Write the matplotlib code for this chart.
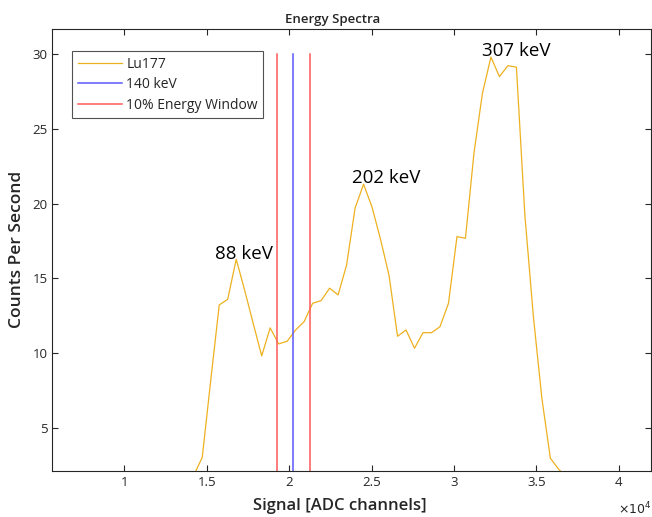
import matplotlib
matplotlib.use('Agg')
import matplotlib.pyplot as plt

plt.rcParams['font.family'] = ['Open Sans', 'DejaVu Sans']

# Lu177 spectrum (ADC channel, counts per second)
channels = [14215, 14730, 15245, 15760, 16275, 16790, 17305, 17820, 18335, 18850,
            19365, 19880, 20395, 20910, 21425, 21940, 22455, 22970, 23485, 24000,
            24515, 25030, 25545, 26060, 26575, 27090, 27605, 28120, 28635, 29150,
            29665, 30180, 30695, 31210, 31725, 32240, 32755, 33270, 33785, 34300,
            34815, 35330, 35845, 36360, 36875]
counts = [1.85, 3.06, 8.2, 13.23, 13.61, 16.28, 14.2, 12.0, 9.83, 11.70,
          10.63, 10.81, 11.56, 12.12, 13.34, 13.52, 14.35, 13.9, 15.9, 19.69,
          21.29, 19.75, 17.6, 15.2, 11.14, 11.56, 10.34, 11.38, 11.38, 11.78,
          13.34, 17.79, 17.68, 23.36, 27.36, 29.77, 28.47, 29.2, 29.1, 19.2,
          12.45, 7.0, 3.0, 2.25, 1.7]

photopeak = 20250          # 140 keV
window = [19240, 21260]    # 10% energy window
line_top = 30

peak_labels = ['88 keV', '202 keV', '307 keV']
peak_x = [15500, 23790, 31670]
peak_y = [16.28, 21.36, 29.85]

xticks = [10000, 15000, 20000, 25000, 30000, 35000, 40000]
xticklabels = ['1', '1.5', '2', '2.5', '3', '3.5', '4']
yticks = [5, 10, 15, 20, 25, 30]

gray = '#262626'

fig = plt.figure(figsize=(6.52, 5.17), dpi=100)
ax = fig.add_axes([0.0802, 0.0896, 0.9188, 0.8544])

ax.plot(channels, counts, color='#EDB120', lw=0.9, label='Lu177')
ax.plot([photopeak, photopeak], [0, line_top], color=(0.35, 0.35, 1.0), lw=1.1, label='140 keV')
ax.plot([window[0], window[0]], [0, line_top], color=(1.0, 0.35, 0.35), lw=1.1,
        label='10% Energy Window')
ax.plot([window[1], window[1]], [0, line_top], color=(1.0, 0.35, 0.35), lw=1.1)

for lab, px, py in zip(peak_labels, peak_x, peak_y):
    ax.text(px, py, lab, fontsize=13.5, color='black', ha='left', va='baseline')

ax.set_xlim(5634, 41970)
ax.set_ylim(2.17, 31.65)
ax.set_xticks(xticks)
ax.set_xticklabels(xticklabels)
ax.set_yticks(yticks)
ax.tick_params(direction='in', length=4, width=0.8, colors=gray, labelsize=9.5,
               top=True, right=True, labelcolor=gray)
for sp in ax.spines.values():
    sp.set_color(gray)
    sp.set_linewidth(0.8)

ax.set_title('Energy Spectra', fontsize=9.5, fontweight='semibold', color=gray, x=0.468, pad=4)
ax.set_xlabel('Signal [ADC channels]', fontsize=12, fontweight='semibold', color=gray)
ax.set_ylabel('Counts Per Second', fontsize=12.5, fontweight='semibold', color=gray)
ax.xaxis.set_label_coords(0.48, -0.062)
ax.yaxis.set_label_coords(-0.045, 0.5)

fig.text(651 / 652, 1 - 514 / 517, r'$\times10^{4}$', fontsize=9, color=gray,
         ha='right', va='baseline')

leg = ax.legend(loc='upper left', bbox_to_anchor=(0.033, 0.95), fontsize=10,
                frameon=True, fancybox=False, handlelength=3.2, handletextpad=0.3,
                borderpad=0.4, labelspacing=0.4, borderaxespad=0)
leg.get_frame().set_edgecolor(gray)
leg.get_frame().set_linewidth(0.8)
for t in leg.get_texts():
    t.set_color(gray)

fig.savefig('out.png', dpi=100)
